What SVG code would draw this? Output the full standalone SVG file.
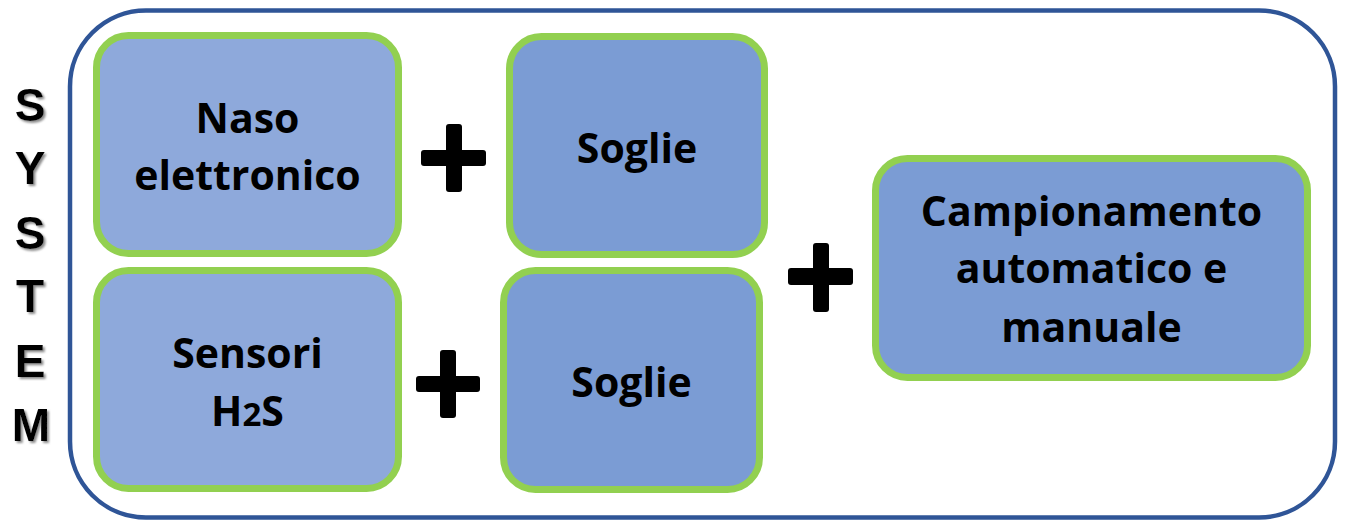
<svg xmlns="http://www.w3.org/2000/svg" width="1345" height="521" viewBox="0 0 1345 521">
<defs>
<style>
.node{stroke:#92D050;stroke-width:7}
.light{fill:#8EA9DB}
.dark{fill:#7B9CD4}
.lbl{font-family:"Open Sans","Liberation Sans",sans-serif;font-weight:700;font-size:41px;fill:#000;text-anchor:middle}
.sys{font-family:"Liberation Sans",Arial,sans-serif;font-weight:bold;font-size:46px;fill:#000;text-anchor:middle}
.plus{fill:#000}
</style>
<filter id="sh" x="-20%" y="-20%" width="150%" height="150%">
<feDropShadow dx="2" dy="2" stdDeviation="1" flood-color="#808080" flood-opacity="0.9"/>
</filter>
</defs>
<rect width="1345" height="521" fill="#fff"/>
<g id="system-frame">
<rect x="70" y="10.5" width="1265" height="507" rx="76" ry="76" fill="#fff" stroke="#2F5597" stroke-width="4.5"/>
</g>
<g id="system-label" filter="url(#sh)">
<text class="sys" x="30" y="121">S</text>
<text class="sys" x="30" y="184">Y</text>
<text class="sys" x="30" y="249">S</text>
<text class="sys" x="30" y="312">T</text>
<text class="sys" x="30" y="377">E</text>
<text class="sys" x="31" y="441">M</text>
</g>
<g id="naso">
<rect class="node light" x="96.5" y="35.5" width="302" height="218" rx="32"/>
<text class="lbl" x="247.5" y="133">Naso</text>
<text class="lbl" x="247.5" y="190">elettronico</text>
</g>
<g id="soglie1">
<rect class="node dark" x="509.5" y="36.5" width="255" height="218" rx="32"/>
<text class="lbl" x="637" y="163">Soglie</text>
</g>
<g id="sensori">
<rect class="node light" x="96.5" y="270.5" width="302" height="218" rx="32"/>
<text class="lbl" x="247.5" y="368">Sensori</text>
<text class="lbl" x="247.5" y="426">H<tspan font-size="33px">2</tspan>S</text>
</g>
<g id="soglie2">
<rect class="node dark" x="503.5" y="270.5" width="256" height="219" rx="32"/>
<text class="lbl" x="631.5" y="397">Soglie</text>
</g>
<g id="campionamento">
<rect class="node dark" x="875.5" y="158.5" width="432" height="219" rx="32"/>
<text class="lbl" x="1091.5" y="226">Campionamento</text>
<text class="lbl" x="1091.5" y="283">automatico e</text>
<text class="lbl" x="1091.5" y="342">manuale</text>
</g>
<g id="connectors">
<g class="plus">
<rect x="421" y="150" width="65" height="16" rx="3"/>
<rect x="446" y="124" width="16" height="68" rx="3"/>
<rect x="416" y="376" width="64" height="16" rx="3"/>
<rect x="440" y="350" width="16" height="68" rx="3"/>
<rect x="788" y="268" width="65" height="17" rx="3"/>
<rect x="813" y="243" width="16" height="69" rx="3"/>
</g>
</g>
</svg>
